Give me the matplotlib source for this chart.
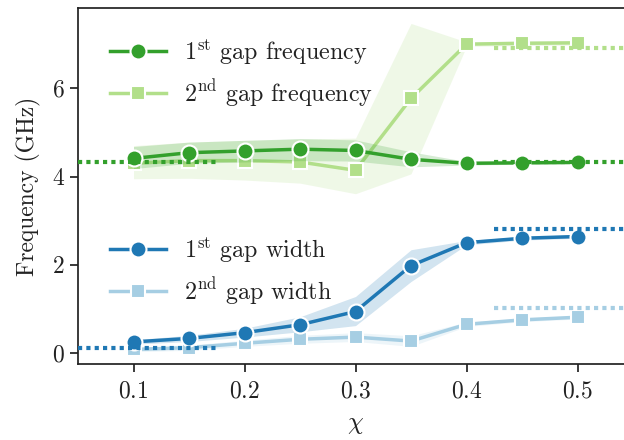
import matplotlib
matplotlib.use("Agg")
import matplotlib.pyplot as plt
import numpy as np

chi = [0.10, 0.15, 0.20, 0.25, 0.30, 0.35, 0.40, 0.45, 0.50]

freq1 = [4.41, 4.54, 4.58, 4.62, 4.59, 4.39, 4.30, 4.31, 4.32]
freq1_lo = [4.18, 4.30, 4.33, 4.36, 4.35, 4.22, 4.26, 4.28, 4.29]
freq1_hi = [4.68, 4.78, 4.82, 4.86, 4.83, 4.56, 4.34, 4.34, 4.35]

freq2 = [4.30, 4.36, 4.36, 4.33, 4.14, 5.77, 7.00, 7.02, 7.03]
freq2_lo = [3.95, 3.96, 3.92, 3.85, 3.61, 4.06, 6.95, 6.97, 6.98]
freq2_hi = [4.70, 4.78, 4.82, 4.85, 4.87, 7.47, 7.05, 7.07, 7.08]

width1 = [0.25, 0.33, 0.46, 0.64, 0.94, 1.98, 2.50, 2.60, 2.64]
width1_lo = [0.20, 0.26, 0.36, 0.48, 0.62, 1.62, 2.45, 2.56, 2.60]
width1_hi = [0.30, 0.40, 0.56, 0.82, 1.28, 2.34, 2.55, 2.64, 2.68]

width2 = [0.08, 0.12, 0.22, 0.31, 0.36, 0.27, 0.65, 0.75, 0.81]
width2_lo = [0.03, 0.06, 0.15, 0.22, 0.26, 0.15, 0.60, 0.71, 0.77]
width2_hi = [0.13, 0.18, 0.29, 0.40, 0.46, 0.39, 0.70, 0.79, 0.85]

# limiting values (dotted references)
freq1_left, freq1_right = 4.33, 4.33
freq2_right = 6.92
width1_left, width1_right = 0.12, 2.82
width2_right = 1.02

labels = [r"1$^{\mathrm{st}}$ gap frequency", r"2$^{\mathrm{nd}}$ gap frequency",
          r"1$^{\mathrm{st}}$ gap width", r"2$^{\mathrm{nd}}$ gap width"]

c_dg, c_lg, c_db, c_lb = "#33a02c", "#b2df8a", "#1f78b4", "#a6cee3"

plt.rcParams["font.family"] = "cmr10"
plt.rcParams["mathtext.fontset"] = "cm"
plt.rcParams["axes.formatter.use_mathtext"] = True

fig = plt.figure(figsize=(6.24, 4.40), dpi=100)
ax = fig.add_axes([78/624, 1-364/440, (633-78)/624, (364-8)/440])

def series(y, lo, hi, color, marker, ms, label, z):
    ax.fill_between(chi, lo, hi, color=color, alpha=0.2, lw=0, zorder=z)
    ln, = ax.plot(chi, y, color=color, marker=marker, ms=ms, lw=2.5,
                  mec="white", mew=1.5, label=label, zorder=z + 1)
    return ln

l2 = series(freq2, freq2_lo, freq2_hi, c_lg, "s", 10.5, labels[1], 1)
l1 = series(freq1, freq1_lo, freq1_hi, c_dg, "o", 11.5, labels[0], 3)
l4 = series(width2, width2_lo, width2_hi, c_lb, "s", 10.5, labels[3], 1)
l3 = series(width1, width1_lo, width1_hi, c_db, "o", 11.5, labels[2], 3)

dot = dict(ls=(0, (1, 1)), lw=3, zorder=6)
ax.axhline(freq1_left, xmax=0.25, color=c_dg, **dot)
ax.axhline(freq1_right, xmin=0.75, color=c_dg, **dot)
ax.axhline(freq2_right, xmin=0.75, color=c_lg, **dot)
ax.axhline(width1_left, xmax=0.25, color=c_db, **dot)
ax.axhline(width1_right, xmin=0.75, color=c_db, **dot)
ax.axhline(width2_right, xmin=0.75, color=c_lb, **dot)

ax.set_xlim(0.05, 0.55)
ax.set_ylim(-0.25, 7.82)
ax.set_xticks([0.1, 0.2, 0.3, 0.4, 0.5])
ax.set_yticks([0, 2, 4, 6])
ax.tick_params(direction="out", length=6, width=1.25, labelsize=17, color="#222222",
               labelcolor="#222222")
ax.tick_params(axis="x", pad=6)
for s in ax.spines.values():
    s.set_linewidth(1.25)
    s.set_color("#222222")
ax.spines["right"].set_visible(False)

ax.set_xlabel(r"$\chi$", fontsize=18, color="#222222", labelpad=8)
ax.set_ylabel("Frequency (GHz)", fontsize=17, color="#222222", labelpad=8)

legkw = dict(frameon=False, fontsize=17.3, handlelength=2.35, handletextpad=0.72,
             labelspacing=0.45, borderpad=0, borderaxespad=0, loc="center left",
             bbox_transform=fig.transFigure, labelcolor="#222222")
leg1 = ax.legend(handles=[l1, l2], bbox_to_anchor=(110/624, 1-73/440), **legkw)
ax.add_artist(leg1)
ax.legend(handles=[l3, l4], bbox_to_anchor=(110/624, 1-271/440), **legkw)

fig.savefig("out.png", dpi=100)
